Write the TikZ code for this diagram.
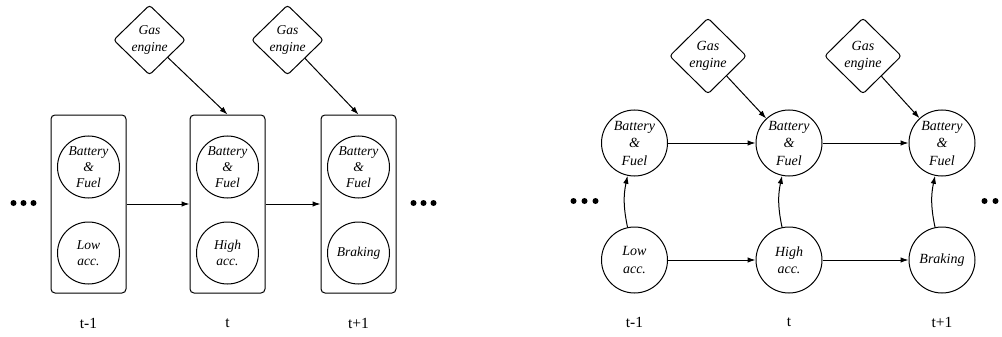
\documentclass[tikz,border=0pt]{standalone}
\usepackage{fontspec}
\setmainfont{Liberation Serif}
\usetikzlibrary{shapes.geometric,arrows.meta}
\begin{document}
\begin{tikzpicture}[x=1pt,y=-1pt,
  lw/.style={line width=1pt},
  arr/.style={lw,-{Latex[length=8pt,width=5.5pt]}},
  circL/.style={circle,draw,lw,minimum size=62pt,inner sep=0pt,align=center,font=\fontsize{13.5}{16}\selectfont\itshape},
  circR/.style={circle,draw,lw,minimum size=66pt,inner sep=0pt,align=center,font=\fontsize{14}{17.5}\selectfont\itshape},
  gasL/.style={diamond,draw,lw,rounded corners=3pt,minimum width=72pt,minimum height=70pt,inner sep=0pt,align=center,font=\fontsize{13.5}{17}\selectfont\itshape},
  gasR/.style={diamond,draw,lw,rounded corners=3pt,minimum width=77pt,minimum height=76pt,inner sep=0pt,align=center,font=\fontsize{14}{17.5}\selectfont\itshape},
  slice/.style={rectangle,draw,lw,rounded corners=4pt,minimum width=75pt,minimum height=178pt,inner sep=0pt},
  dotn/.style={circle,fill=black,inner sep=0pt,minimum size=6pt},
  tlab/.style={font=\fontsize{15.5}{18}\selectfont}
  ]
\useasboundingbox (0,0) rectangle (1002,337);

% ---------- left panel ----------
\node[gasL] (g1) at (149.5,40) {Gas\\engine};
\node[gasL] (g2) at (287.5,40) {Gas\\engine};

\node[slice] (b1) at (88.5,204) {};
\node[slice] (b2) at (227.5,204) {};
\node[slice] (b3) at (358.5,204) {};

\node[circL] (bf1) at (88.5,167) {Battery\\\&\\Fuel};
\node[circL] (lo1) at (88.5,253) {Low\\acc.};
\node[circL] (bf2) at (227.5,167) {Battery\\\&\\Fuel};
\node[circL] (hi2) at (227.5,253) {High\\acc.};
\node[circL] (bf3) at (358.5,167) {Battery\\\&\\Fuel};
\node[circL] (br3) at (358.5,253) {Braking};

\draw[arr] (b1.east) -- (b2.west);
\draw[arr] (b2.east) -- (b3.west);
\draw[arr] (g1) -- (b2.north);
\draw[arr] (g2) -- (b3.north);

\node[dotn] (dl1) at (13.5,203) {};
\node[dotn] (dl2) at (23.5,203) {};
\node[dotn] (dl3) at (33.5,203) {};
\node[dotn] (dr1) at (413.5,203) {};
\node[dotn] (dr2) at (423.5,203) {};
\node[dotn] (dr3) at (433.5,203) {};

\node[tlab] (la1) at (88.5,323) {t-1};
\node[tlab] (la2) at (227.5,323) {t};
\node[tlab] (la3) at (358.5,323) {t+1};

% ---------- right panel ----------
\node[gasR] (g3) at (708,56) {Gas\\engine};
\node[gasR] (g4) at (863,56) {Gas\\engine};

\node[circR] (p1) at (634.5,143) {Battery\\\&\\Fuel};
\node[circR] (p2) at (789,143) {Battery\\\&\\Fuel};
\node[circR] (p3) at (942,143) {Battery\\\&\\Fuel};
\node[circR] (q1) at (634.5,260) {Low\\acc.};
\node[circR] (q2) at (789,260) {High\\acc.};
\node[circR] (q3) at (942,260) {Braking};

\draw[arr] (p1) -- (p2);
\draw[arr] (p2) -- (p3);
\draw[arr] (q1) -- (q2);
\draw[arr] (q2) -- (q3);
\draw[arr] (q1) to[bend left=12] (p1);
\draw[arr] (q2) to[bend left=12] (p2);
\draw[arr] (q3) to[bend left=12] (p3);
\draw[arr] (g3) -- (p2);
\draw[arr] (g4) -- (p3);

\node[dotn] (el1) at (573.5,201) {};
\node[dotn] (el2) at (584.5,201) {};
\node[dotn] (el3) at (595.5,201) {};
\node[dotn] (er1) at (984.5,201) {};
\node[dotn] (er2) at (995.5,201) {};
\node[dotn] (er3) at (1006.5,201) {};

\node[tlab] (lb1) at (634.5,322) {t-1};
\node[tlab] (lb2) at (789,322) {t};
\node[tlab] (lb3) at (942,322) {t+1};
\end{tikzpicture}
\end{document}
